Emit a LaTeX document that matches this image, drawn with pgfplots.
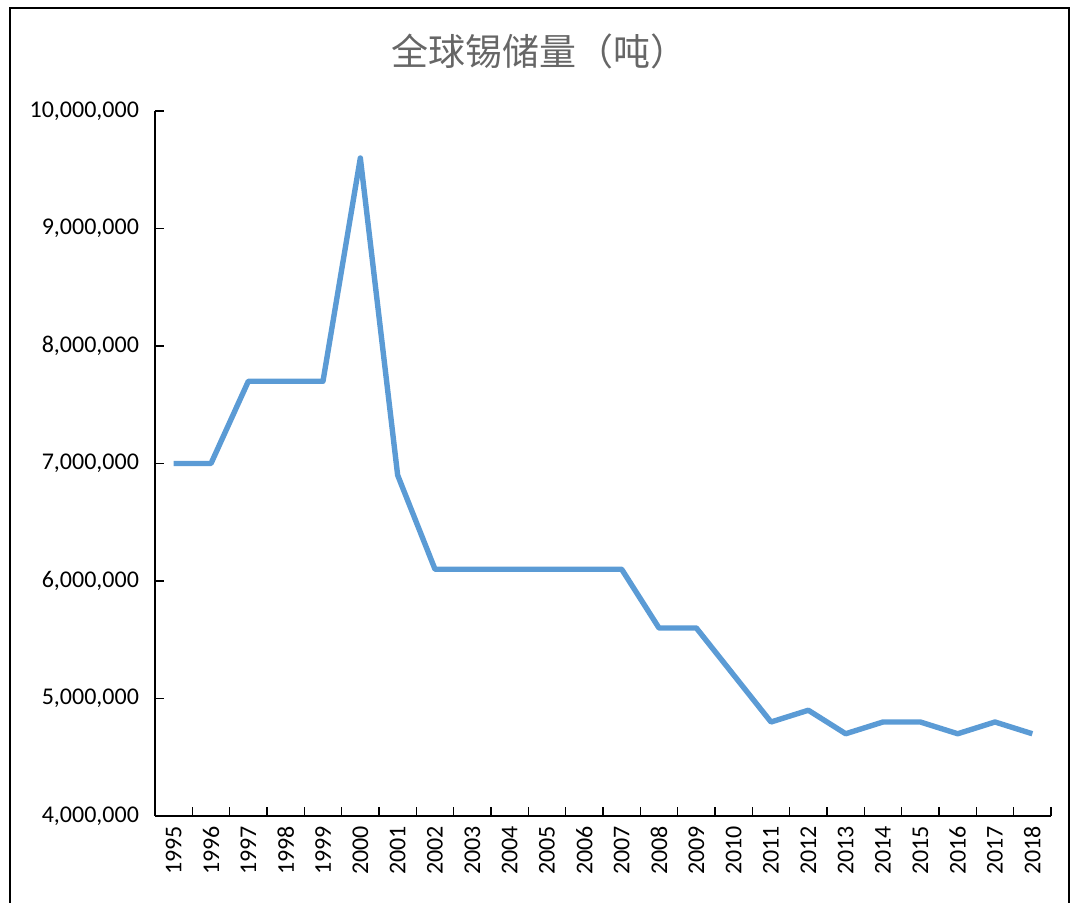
\documentclass[border=0pt]{standalone}
\usepackage{pgfplots}
\pgfplotsset{compat=1.18}
\usepackage{fontspec}
\setmainfont{Carlito}
\newfontfamily\cjk{Noto Sans CJK SC}
\definecolor{lineblue}{HTML}{5B9BD5}
\definecolor{titlegray}{HTML}{666666}
\pgfplotstableread{
x year val
0 1995 7000000
1 1996 7000000
2 1997 7700000
3 1998 7700000
4 1999 7700000
5 2000 9600000
6 2001 6900000
7 2002 6100000
8 2003 6100000
9 2004 6100000
10 2005 6100000
11 2006 6100000
12 2007 6100000
13 2008 5600000
14 2009 5600000
15 2010 5200000
16 2011 4800000
17 2012 4900000
18 2013 4700000
19 2014 4800000
20 2015 4800000
21 2016 4700000
22 2017 4800000
23 2018 4700000
}\tin
\begin{document}
\begin{tikzpicture}[x=0.5pt,y=0.5pt]
\path[use as bounding box] (0,0) rectangle (1074,903);
\draw[line width=1.1pt] (10,-5) -- (10,895) -- (1069,895) -- (1069,-5);
\node[font=\cjk\fontsize{18.5}{20}\selectfont, text=titlegray] at (539,852) {全球锡储量（吨）};
\begin{axis}[
  at={(77.5pt,43.5pt)}, anchor=south west,
  scale only axis, width=448pt, height=352.5pt,
  xmin=-0.5, xmax=23.5, ymin=4000000, ymax=10000000,
  axis lines*=left, axis line style={line width=0.9pt, -},
  xtick={0,...,23}, xticklabels={1995,1996,1997,1998,1999,2000,2001,2002,2003,2004,2005,2006,2007,2008,2009,2010,2011,2012,2013,2014,2015,2016,2017,2018},
  major x tick style={draw=none},
  minor xtick={-0.5,0.5,...,23.5},
  minor x tick style={line width=0.8pt, black},
  minor tick length=4.5pt,
  ytick={4000000,5000000,...,10000000},
  major y tick style={line width=0.8pt, black},
  major tick length=4.5pt,
  tick align=inside,
  scaled y ticks=false,
  yticklabel style={/pgf/number format/fixed, /pgf/number format/precision=0, /pgf/number format/1000 sep={,}, /pgf/number format/assume math mode=true, xshift=-4.5pt},
  ticklabel style={font=\fontsize{12}{14}\selectfont},
  xticklabel style={rotate=90, anchor=east, xshift=-1.5pt},
  clip=false,
]
\addplot[lineblue, line width=2.7pt, line join=round] table[x=x, y=val] {\tin};
\end{axis}
\end{tikzpicture}
\end{document}
